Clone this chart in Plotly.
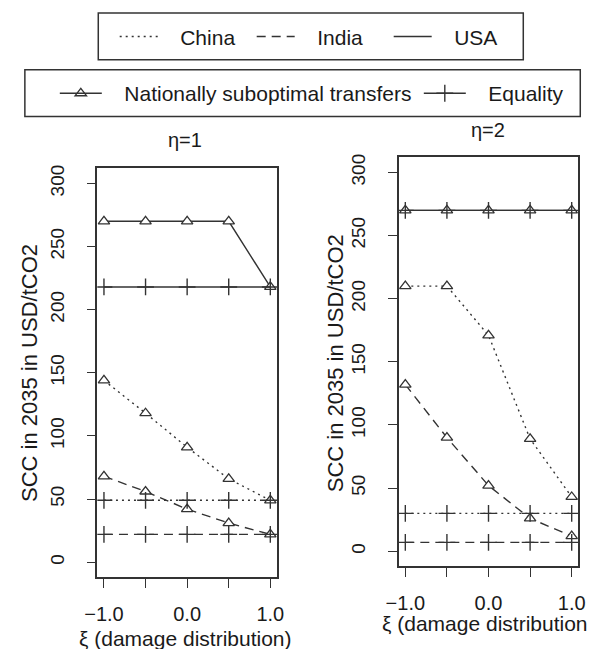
import plotly.graph_objects as go

# ---- data ----
xi = [-1.0, -0.5, 0.0, 0.5, 1.0]
x_tick_vals = [-1.0, -0.5, 0.0, 0.5, 1.0]
x_tick_text = ["\u22121.0", "", "0.0", "", "1.0"]
y_tick_vals = [0, 50, 100, 150, 200, 250, 300]

# eta = 1
china_nst_1 = [144, 118, 91, 66, 49]
india_nst_1 = [68, 56, 42, 31, 22]
usa_nst_1 = [270, 270, 270, 270, 218]
china_eq_1 = [49, 49, 49, 49, 49]
india_eq_1 = [22, 22, 22, 22, 22]
usa_eq_1 = [218, 218, 218, 218, 218]

# eta = 2
china_nst_2 = [210, 210, 171, 89, 43]
india_nst_2 = [132, 90, 52, 26, 12]
usa_nst_2 = [270, 270, 270, 270, 270]
china_eq_2 = [30, 30, 30, 30, 30]
india_eq_2 = [7, 7, 7, 7, 7]
usa_eq_2 = [270, 270, 270, 270, 270]

countries = ["China", "India", "USA"]
scenarios = ["Nationally suboptimal transfers", "Equality"]

# page body has an 8px margin: the figure is sized to fit the window exactly
OFF = 8
W, H = 595 - OFF, 649 - OFF
FONT = "Liberation Sans, Arial, sans-serif"
INK = "#333333"
TXT = "#1a1a1a"
NB = "\u00a0"

dash = {"China": "2px,4px", "India": "9px,6px", "USA": "solid"}


def px_x(p):
    return (p - OFF) / W


def px_y(p):
    return 1 - (p - OFF) / H


fig = go.Figure()

panels = [
    ("x", "y", {"China": china_nst_1, "India": india_nst_1, "USA": usa_nst_1},
     {"China": china_eq_1, "India": india_eq_1, "USA": usa_eq_1}),
    ("x2", "y2", {"China": china_nst_2, "India": india_nst_2, "USA": usa_nst_2},
     {"China": china_eq_2, "India": india_eq_2, "USA": usa_eq_2}),
]

for xa, ya, nst, eq in panels:
    for c in countries:
        fig.add_trace(go.Scatter(
            x=xi, y=nst[c], xaxis=xa, yaxis=ya, mode="lines+markers",
            line=dict(color=INK, width=1.4, dash=dash[c]),
            marker=dict(symbol="triangle-up", size=10, color="white",
                        line=dict(color=INK, width=1.3)),
            showlegend=False, hoverinfo="skip"))
    for c in countries:
        fig.add_trace(go.Scatter(
            x=xi, y=eq[c], xaxis=xa, yaxis=ya, mode="lines+markers",
            line=dict(color=INK, width=1.4, dash=dash[c]),
            marker=dict(symbol="cross-thin", size=12, color=INK,
                        line=dict(color=INK, width=1.4)),
            showlegend=False, hoverinfo="skip"))

# legend 1: countries (line styles)
lw1 = {"China": 84, "India": 84, "USA": None}
for c in countries:
    fig.add_trace(go.Scatter(
        x=[None], y=[None], mode="lines", name=NB * 3 + c,
        line=dict(color=INK, width=1.4, dash=dash[c]),
        legend="legend", legendwidth=lw1[c]))

# legend 2: scenarios (markers)
fig.add_trace(go.Scatter(
    x=[None], y=[None], mode="lines+markers", name=NB * 3 + scenarios[0],
    line=dict(color=INK, width=1.4),
    marker=dict(symbol="triangle-up-open", size=10, color=INK, line=dict(color=INK, width=1.3)),
    legend="legend2", legendwidth=307))
fig.add_trace(go.Scatter(
    x=[None], y=[None], mode="lines+markers", name=NB * 3 + scenarios[1],
    line=dict(color=INK, width=1.4),
    marker=dict(symbol="cross-thin", size=12, color=INK, line=dict(color=INK, width=1.4)),
    legend="legend2"))

xcommon = dict(range=[-1.08, 1.08], tickvals=x_tick_vals, ticktext=x_tick_text,
               ticks="outside", ticklen=9, tickwidth=1.3, tickcolor=INK,
               showline=True, mirror=True, linecolor=INK, linewidth=1.5,
               showgrid=False, zeroline=False, tickfont=dict(size=20, color=TXT),
               ticklabelstandoff=9, fixedrange=True)
ycommon = dict(range=[-12, 312], tickvals=y_tick_vals, tickangle=-90,
               ticks="outside", ticklen=9, tickwidth=1.3, tickcolor=INK,
               showline=True, mirror=True, linecolor=INK, linewidth=1.5,
               showgrid=False, zeroline=False, tickfont=dict(size=19, color=TXT),
               ticklabelstandoff=15, fixedrange=True)

fig.update_layout(
    width=W, height=H,
    margin=dict(l=0, r=0, t=0, b=0),
    paper_bgcolor="white", plot_bgcolor="white",
    font=dict(family=FONT, color=TXT),
    xaxis=dict(domain=[px_x(87), px_x(273)], anchor="y", **xcommon),
    yaxis=dict(domain=[px_y(577), px_y(166)], anchor="x", **ycommon),
    xaxis2=dict(domain=[px_x(399), px_x(585)], anchor="y2", **xcommon),
    yaxis2=dict(domain=[px_y(566), px_y(155)], anchor="x2", **ycommon),
    legend=dict(x=px_x(105), y=px_y(34), xanchor="left", yanchor="middle",
                orientation="h", borderwidth=0, bgcolor="rgba(0,0,0,0)",
                font=dict(size=21, color=TXT), itemwidth=38),
    legend2=dict(x=px_x(43), y=px_y(91), xanchor="left", yanchor="middle",
                 orientation="h", borderwidth=0, bgcolor="rgba(0,0,0,0)",
                 font=dict(size=21, color=TXT), itemwidth=42),
    showlegend=True,
    shapes=[
        dict(type="rect", xref="paper", yref="paper",
             x0=px_x(88), x1=px_x(528), y0=px_y(57), y1=px_y(10),
             line=dict(color=INK, width=1.5), layer="below"),
        dict(type="rect", xref="paper", yref="paper",
             x0=px_x(12), x1=px_x(587), y0=px_y(114), y1=px_y(67),
             line=dict(color=INK, width=1.5), layer="below"),
    ],
)

ann = [
    dict(text="\u03b7=1", x=px_x(178), y=px_y(138), size=20, angle=0, xa="center"),
    dict(text="\u03b7=2", x=px_x(491), y=px_y(128), size=20, angle=0, xa="center"),
    dict(text="SCC in 2035 in USD/tCO2", x=px_x(17), y=px_y(372), size=22, angle=-90, xa="center"),
    dict(text="SCC in 2035 in USD/tCO2", x=px_x(333), y=px_y(362), size=22, angle=-90, xa="center"),
    dict(text="\u03be (damage distribution)", x=px_x(178), y=px_y(638), size=21, angle=0, xa="center"),
    dict(text="\u03be (damage distribution)", x=px_x(380), y=px_y(623), size=21, angle=0, xa="left"),
]
for a in ann:
    fig.add_annotation(text=a["text"], x=a["x"], y=a["y"], xref="paper", yref="paper",
                       showarrow=False, textangle=a["angle"], xanchor=a["xa"], yanchor="middle",
                       font=dict(size=a["size"], color=TXT, family=FONT))

fig.write_html("out.html")
